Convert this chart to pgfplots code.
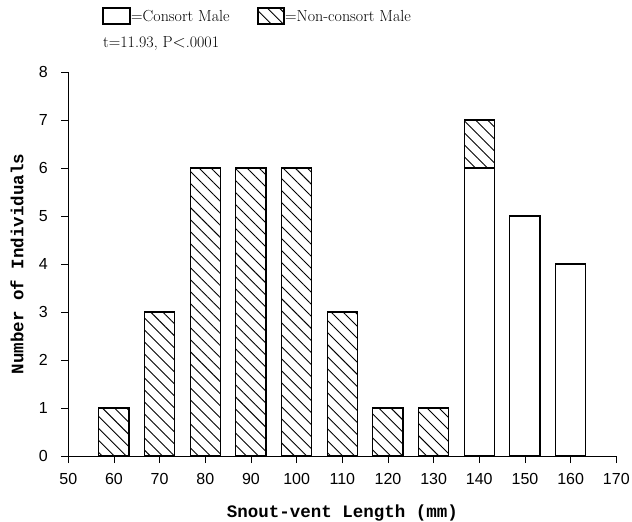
\documentclass[border=0pt]{standalone}
\usepackage{fontspec}
\usepackage{pgfplots}
\pgfplotsset{compat=1.18}
\usetikzlibrary{patterns.meta}
\newfontfamily\tickfont{Liberation Sans}
\newfontfamily\labfont{Liberation Mono}
\tikzset{hatch/.style={pattern={Lines[angle=-45,distance=8.5bp,line width=0.9bp]}}}
\begin{document}
\begin{tikzpicture}
\useasboundingbox (-68.3bp,-66bp) rectangle (563.7bp,456bp);
\begin{axis}[
  at={(0,0)}, anchor=south west,
  scale only axis, width=548bp, height=384bp,
  xmin=50, xmax=170, ymin=0, ymax=8,
  axis x line=bottom, axis y line=left,
  axis line style={-, line width=0.9bp},
  xtick={50,60,...,170}, ytick={0,1,...,8},
  tick align=outside, major tick length=7bp,
  tick style={line width=0.9bp, black},
  minor tick num=0,
  /pgf/number format/assume math mode=true,
  ticklabel style={font=\tickfont\fontsize{16bp}{18bp}\selectfont},
  xticklabel style={yshift=-7bp},
  yticklabel style={xshift=-10bp},
  ybar, bar width=6.6, bar shift=0pt,
  xlabel={Snout-vent Length (mm)},
  ylabel={Number of Individuals},
  label style={font=\labfont\bfseries\fontsize{17.5bp}{20bp}\selectfont},
  xlabel style={at={(axis description cs:0.5,-0.1484)}, anchor=center},
  ylabel style={at={(axis description cs:-0.0936,0.5)}, anchor=center},
  clip=false,
]
\addplot[hatch, draw=black, line width=1.1bp] coordinates {(60,1) (70,3) (80,6) (90,6) (100,6) (110,3) (120,1) (130,1) (140,7)};
\addplot[fill=white, draw=black, line width=1.1bp] coordinates {(140,6) (150,5) (160,4)};
\end{axis}
\draw[line width=1.1bp] (34.7bp,432bp) rectangle (61.7bp,448bp);
\node[anchor=base west, inner sep=0pt, font=\fontsize{16bp}{18bp}\selectfont] at (62.7bp,434bp) {=Consort Male};
\draw[line width=1.1bp, hatch] (189.7bp,432bp) rectangle (215.7bp,448bp);
\node[anchor=base west, inner sep=0pt, font=\fontsize{16bp}{18bp}\selectfont] at (216.7bp,434bp) {=Non-consort Male};
\node[anchor=base west, inner sep=0pt, font=\fontsize{16bp}{18bp}\selectfont] at (34.7bp,408bp) {t=11.93, P$<$.0001};
\end{tikzpicture}
\end{document}
